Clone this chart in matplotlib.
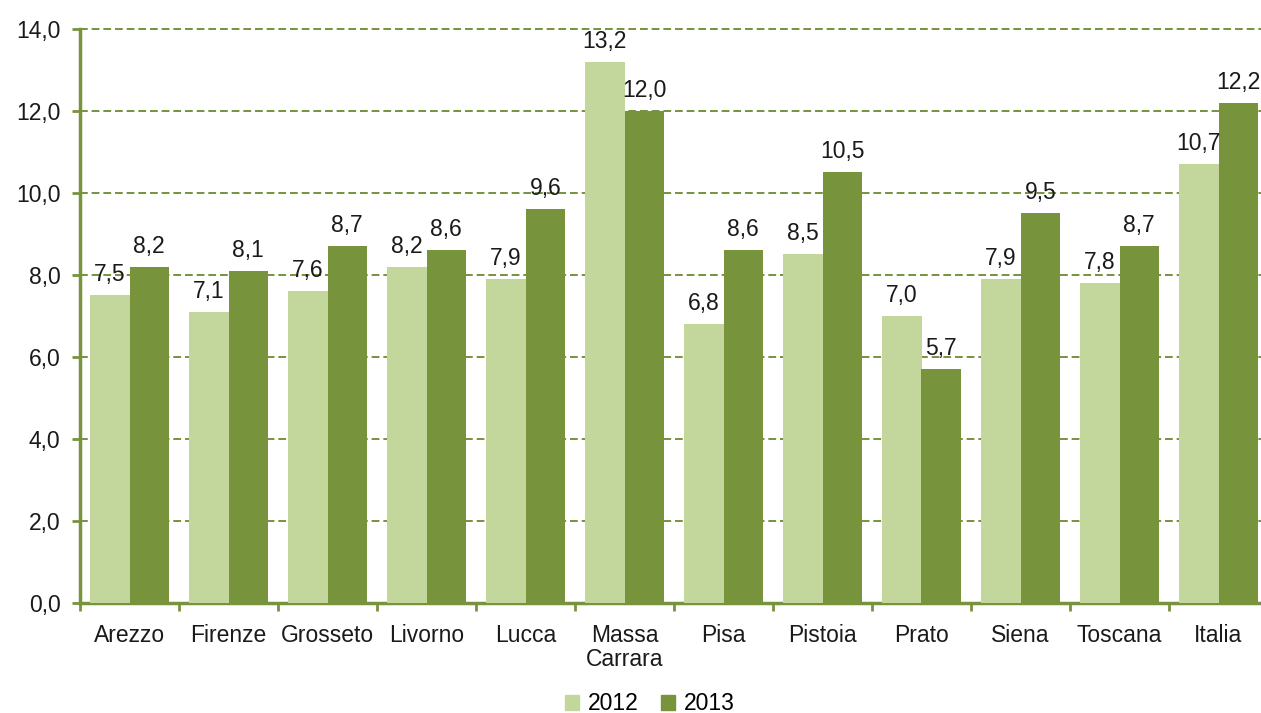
import numpy as np
import matplotlib
matplotlib.use("Agg")
import matplotlib.pyplot as plt
from matplotlib.patches import Patch

plt.rcParams['font.family'] = ['Liberation Sans', 'DejaVu Sans']

# data
province = ['Arezzo', 'Firenze', 'Grosseto', 'Livorno', 'Lucca', 'Massa\nCarrara',
            'Pisa', 'Pistoia', 'Prato', 'Siena', 'Toscana', 'Italia']
val_2012 = [7.5, 7.1, 7.6, 8.2, 7.9, 13.2, 6.8, 8.5, 7.0, 7.9, 7.8, 10.7]
val_2013 = [8.2, 8.1, 8.7, 8.6, 9.6, 12.0, 8.6, 10.5, 5.7, 9.5, 8.7, 12.2]
anni = ['2012', '2013']

light = '#c3d69b'
dark = '#77933c'
grid_col = '#77933c'
fs = 16.5

fig = plt.figure(figsize=(12.61, 7.13), dpi=100)
fig.patch.set_facecolor('white')
# axes runs a bit past the right edge like the original
ax = fig.add_axes([80/1261, 110/713, 1188/1261, 574/713])

x = np.arange(len(province))
w = 0.4
b1 = ax.bar(x - w/2, val_2012, w, color=light, zorder=3)
b2 = ax.bar(x + w/2, val_2013, w, color=dark, zorder=3)

fmt = lambda v: ('%.1f' % v).replace('.', ',')
for bars, vals in [(b1, val_2012), (b2, val_2013)]:
    for r, v in zip(bars, vals):
        ax.annotate(fmt(v), (r.get_x() + r.get_width()/2, v), xytext=(0, 6.5),
                    textcoords='offset points', ha='center', va='bottom',
                    fontsize=fs, color='#1a1a1a', zorder=4)

ax.set_ylim(0, 14)
ax.set_xlim(-0.5, len(province) - 0.5)
ax.set_yticks(np.arange(0, 15, 2))
ax.set_yticklabels([fmt(v) for v in np.arange(0, 15, 2)], fontsize=fs, color='#1a1a1a')
ax.yaxis.grid(True, color=grid_col, linestyle=(0, (4, 2)), linewidth=1.4, zorder=0)
for gl in ax.get_ygridlines():
    gl.set_clip_on(False)

# category labels centred, tick marks at category edges
ax.set_xticks(x)
ax.set_xticklabels(province, fontsize=fs, color='#1a1a1a', linespacing=1.05)
ax.tick_params(axis='x', length=0, pad=15)
ax.set_xticks(np.arange(-0.5, len(province), 1), minor=True)
ax.tick_params(axis='x', which='minor', length=6, width=2, color=grid_col)
ax.tick_params(axis='y', length=6, width=2, color=grid_col, pad=8)

for s in ['top', 'right']:
    ax.spines[s].set_visible(False)
for s in ['left', 'bottom']:
    ax.spines[s].set_color(grid_col)
    ax.spines[s].set_linewidth(2.5)

handles = [Patch(color=light), Patch(color=dark)]
fig.legend(handles, anni, loc='center', bbox_to_anchor=(650/1261, 1 - 704/713),
           ncol=2, frameon=False, fontsize=fs, handlelength=0.6, handleheight=0.6,
           handletextpad=0.4, columnspacing=1.0)

fig.savefig('out.png', dpi=100, facecolor='white')
